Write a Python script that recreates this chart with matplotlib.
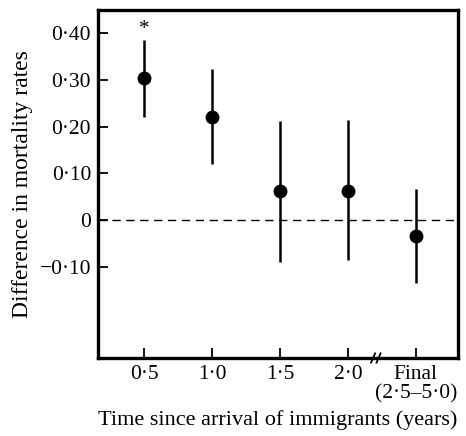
import numpy as np
import matplotlib.pyplot as plt

plt.rcParams['font.family'] = ['Liberation Serif', 'DejaVu Serif']

categories = ["0·5", "1·0", "1·5", "2·0", "Final\n(2·5–5·0)"]
diff = [0.305, 0.221, 0.062, 0.063, -0.034]
ci_low = [0.221, 0.120, -0.090, -0.086, -0.135]
ci_high = [0.385, 0.324, 0.212, 0.215, 0.067]
yticks = [0.40, 0.30, 0.20, 0.10, 0.0, -0.10]
ytick_labels = ["0·40", "0·30", "0·20", "0·10", "0", "−0·10"]

fig = plt.figure(figsize=(4.66, 4.36), dpi=100)
ax = fig.add_axes([98/466, 1 - 358/436, 360/466, 348/436])

x = np.arange(len(categories))
diff = np.array(diff)
lo = diff - np.array(ci_low)
hi = np.array(ci_high) - diff
ax.errorbar(x, diff, yerr=[lo, hi], fmt='o', color='black', ms=9,
            elinewidth=1.8, capsize=0, zorder=3)
ax.axhline(0, color='black', lw=1.0, ls=(0, (6, 4)), zorder=1)
ax.text(x[0], ci_high[0] + 0.002, "*", ha='center', va='bottom', fontsize=15)

ax.set_xlim(-0.68, 4.62)
ax.set_ylim(-0.296, 0.45)
ax.set_xticks(x)
ax.set_xticklabels(categories, fontsize=15.5, linespacing=1.0)
ax.set_yticks(yticks)
ax.set_yticklabels(ytick_labels, fontsize=15.5)
ax.tick_params(direction='in', length=7, width=1.3, pad=5)
for s in ax.spines.values():
    s.set_linewidth(2.4)

# axis break marks on the bottom spine
bx = 3.4
ax.plot([bx - 0.06, bx + 0.0], [-0.306, -0.286], color='black', lw=1.3,
        clip_on=False)
ax.plot([bx + 0.02, bx + 0.08], [-0.306, -0.286], color='black', lw=1.3,
        clip_on=False)

ax.set_ylabel("Difference in mortality rates", fontsize=17, labelpad=5)
ax.set_xlabel("Time since arrival of immigrants (years)", fontsize=16, labelpad=5)

fig.savefig("out.png", dpi=100)
